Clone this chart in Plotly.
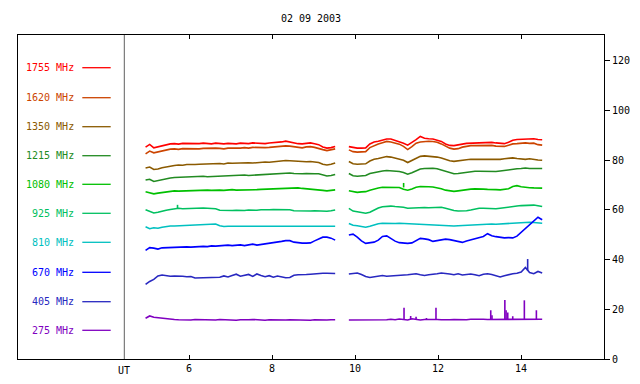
import numpy as np
import plotly.graph_objects as go

title_text = "02 09 2003"
names = ["1755 MHz", "1620 MHz", "1350 MHz", "1215 MHz", "1080 MHz",
         "925 MHz", "810 MHz", "670 MHz", "405 MHz", "275 MHz"]
colors = ["#ff0000", "#cc4400", "#8b5a00", "#228b22", "#00c000",
          "#00c060", "#00c0c0", "#0000ff", "#2828c0", "#8000c0"]

seg1_start, seg1_end = 4.95, 9.52
seg2_start, seg2_end = 9.85, 14.51

f1755_a = [85.2, 86.3, 84.9, 85.3, 85.8, 86.2, 86.5, 86.6, 86.4, 86.7, 86.6, 86.8, 86.7, 86.6, 86.8, 86.7,
           86.5, 86.8, 86.6, 86.5, 86.7, 86.6, 86.5, 86.8, 86.7, 86.6, 86.9, 86.7, 86.8, 86.6, 86.9, 87.0,
           86.9, 87.3, 87.6, 87.2, 86.8, 86.6, 86.5, 86.8, 86.9, 86.6, 86.2, 85.3, 84.8, 85.0, 85.5]
f1755_b = [85.4, 85.0, 84.8, 84.8, 84.9, 86.5, 87.3, 87.6, 88.0, 88.5, 88.5, 88.0, 87.5, 86.8, 86.0, 87.0,
           88.2, 89.5, 88.8, 88.6, 88.5, 88.0, 87.5, 86.5, 85.9, 85.8, 86.0, 86.4, 86.7, 86.8, 86.9, 87.0,
           86.9, 87.0, 87.1, 86.9, 86.7, 86.6, 87.2, 88.0, 88.3, 88.4, 88.5, 88.4, 88.6, 88.3, 88.2]

f1620_a = [82.5, 83.6, 82.9, 83.3, 83.8, 84.2, 84.4, 84.5, 84.3, 84.6, 84.5, 84.7, 84.6, 84.5, 84.7, 84.8,
           84.6, 84.8, 84.7, 84.5, 84.8, 84.7, 84.9, 84.8, 85.0, 84.8, 85.1, 85.0, 85.2, 85.0, 85.1, 85.3,
           85.4, 85.5, 85.7, 85.6, 85.4, 85.2, 84.9, 85.3, 85.4, 85.1, 84.8, 84.2, 83.8, 84.0, 84.5]
f1620_b = [84.1, 83.4, 83.2, 83.2, 83.4, 85.0, 85.8, 86.5, 87.0, 87.5, 87.3, 86.8, 86.4, 85.5, 84.2, 85.4,
           86.8, 87.3, 87.5, 87.6, 87.5, 87.2, 86.5, 85.5, 84.8, 84.4, 84.6, 85.2, 85.6, 85.8, 85.8, 85.9,
           85.7, 85.8, 85.9, 85.6, 85.4, 85.5, 86.0, 86.5, 86.6, 86.8, 86.9, 86.7, 86.8, 86.2, 86.0]

f1350_a = [76.8, 77.2, 76.2, 76.4, 76.9, 77.3, 77.6, 77.8, 78.0, 77.9, 78.2, 78.1, 78.2, 78.3, 78.4, 78.2,
           78.3, 78.5, 78.6, 78.4, 78.8, 78.7, 78.8, 79.0, 79.1, 78.9, 78.8, 79.0, 79.0, 79.2, 79.1, 79.3,
           79.5, 79.6, 79.8, 79.7, 79.6, 79.4, 79.2, 79.3, 79.4, 79.2, 79.0, 78.3, 78.0, 78.3, 78.8]
f1350_b = [79.4, 78.5, 78.3, 78.3, 78.5, 79.6, 80.3, 80.6, 81.0, 81.4, 81.2, 80.8, 80.5, 79.9, 79.0, 79.8,
           80.8, 81.5, 81.7, 81.6, 81.5, 81.2, 80.8, 80.2, 79.7, 79.5, 79.6, 79.9, 80.1, 80.3, 80.3, 80.4,
           80.3, 80.2, 80.1, 80.2, 80.3, 80.5, 80.7, 80.9, 80.6, 80.4, 80.3, 80.5, 80.1, 80.0, 79.9]

f1215_a = [72.0, 72.3, 71.4, 71.8, 72.2, 72.5, 72.8, 73.0, 73.1, 73.0, 73.2, 73.3, 73.3, 73.4, 73.5, 73.3,
           73.4, 73.6, 73.7, 73.5, 73.8, 73.9, 73.9, 74.0, 74.0, 73.8, 73.9, 74.1, 74.2, 74.1, 74.3, 74.5,
           74.6, 74.5, 74.7, 74.8, 74.6, 74.4, 74.5, 74.6, 74.7, 74.5, 74.5, 73.9, 73.6, 73.8, 74.2]
f1215_b = [74.6, 73.7, 73.5, 73.6, 73.8, 74.6, 75.0, 75.3, 75.6, 75.8, 75.7, 75.6, 75.4, 75.0, 74.3, 74.9,
           75.8, 76.4, 76.6, 76.8, 76.7, 76.5, 76.0, 75.2, 74.8, 74.5, 74.6, 74.9, 75.2, 75.4, 75.5, 75.5,
           75.4, 75.5, 75.5, 75.4, 75.6, 75.9, 76.2, 76.4, 76.5, 76.6, 76.8, 76.6, 76.7, 76.7, 76.6]

f1080_a = [67.3, 67.0, 66.4, 66.7, 67.0, 67.3, 67.5, 67.6, 67.5, 67.6, 67.7, 67.6, 67.8, 67.7, 67.8, 67.9,
           67.8, 68.0, 67.9, 67.8, 68.0, 68.1, 67.9, 68.0, 68.1, 68.2, 68.0, 68.1, 68.2, 68.3, 68.3, 68.4,
           68.5, 68.4, 68.6, 68.7, 68.7, 68.8, 68.6, 68.5, 68.4, 68.3, 68.2, 67.8, 67.6, 67.8, 68.0]
f1080_b = [67.7, 67.2, 67.0, 67.2, 67.3, 67.9, 68.5, 68.8, 69.1, 69.0, 69.1, 68.9, 69.0, 68.3, 67.9, 68.4,
           69.1, 69.4, 69.5, 69.3, 69.2, 68.9, 68.5, 67.9, 67.5, 67.4, 67.6, 67.9, 68.2, 68.3, 68.4, 68.2,
           68.3, 68.2, 68.0, 68.1, 68.0, 68.2, 68.5, 69.4, 69.7, 69.3, 69.0, 68.9, 68.8, 68.9, 68.7]

f925_a = [60.0, 59.3, 58.7, 59.0, 59.5, 59.8, 60.1, 60.4, 60.6, 60.4, 60.5, 60.6, 60.5, 60.7, 60.7, 60.6,
          60.6, 60.4, 59.8, 59.7, 59.6, 59.7, 59.8, 59.7, 59.7, 59.9, 59.8, 59.8, 60.0, 59.9, 60.0, 60.1,
          60.1, 60.3, 60.2, 60.0, 59.6, 59.5, 59.5, 59.6, 59.5, 59.6, 59.5, 59.4, 59.4, 59.6, 59.9]
f925_b = [60.6, 59.5, 59.2, 58.9, 58.6, 59.0, 60.0, 60.7, 61.2, 61.5, 61.5, 61.3, 61.2, 61.0, 60.6, 60.7,
          61.0, 61.0, 60.9, 60.8, 60.8, 60.9, 61.0, 60.6, 60.0, 59.7, 59.5, 59.4, 59.6, 59.9, 60.3, 60.6,
          60.6, 60.5, 60.6, 60.4, 60.6, 60.9, 61.1, 61.2, 61.5, 61.7, 61.8, 62.0, 61.9, 61.6, 61.3]

f810_a = [53.2, 52.4, 52.8, 52.6, 53.0, 53.3, 53.5, 53.5, 53.6, 53.7, 53.8, 53.8, 53.9, 53.9, 54.0, 54.1,
          54.2, 54.3, 53.6, 53.3, 53.4, 53.4, 53.3, 53.4, 53.5, 53.4, 53.4, 53.5, 53.5, 53.4, 53.4, 53.5,
          53.6, 53.5, 53.5, 53.4, 53.4, 53.5, 53.5, 53.4, 53.4, 53.5, 53.5, 53.4, 53.3, 53.5, 53.4]
f810_b = [54.5, 53.8, 53.6, 53.3, 53.0, 53.4, 54.0, 54.4, 54.6, 54.5, 54.6, 54.5, 54.6, 54.5, 54.4, 54.6,
          54.5, 54.3, 54.2, 54.0, 54.1, 53.9, 53.8, 53.7, 53.5, 53.5, 53.6, 53.7, 53.8, 54.0, 54.1, 54.2,
          54.1, 54.2, 54.3, 54.2, 54.3, 54.4, 54.5, 54.6, 54.8, 55.0, 55.1, 55.0, 54.9, 54.7, 54.6]

f670_a = [43.7, 44.8, 44.6, 44.2, 44.7, 44.8, 44.9, 45.0, 44.8, 45.0, 45.1, 45.0, 45.2, 45.1, 45.3, 45.2,
          45.5, 45.4, 45.6, 45.5, 45.8, 45.6, 45.8, 45.9, 45.6, 45.9, 46.2, 45.8, 46.0, 46.3, 46.5, 46.7,
          47.0, 47.3, 47.6, 47.6, 47.0, 46.7, 46.6, 46.6, 46.7, 47.5, 48.4, 49.0, 49.0, 48.6, 47.8]
f670_b = [49.9, 50.2, 49.0, 47.5, 46.5, 46.8, 47.0, 47.8, 49.3, 49.5, 48.5, 47.4, 46.8, 46.6, 46.5, 46.7,
          47.5, 48.5, 48.3, 48.0, 47.3, 47.6, 47.9, 48.2, 48.0, 47.6, 47.2, 46.9, 47.5, 48.0, 48.4, 48.8,
          49.3, 50.4, 49.6, 49.2, 48.9, 48.7, 48.8, 48.7, 49.4, 51.0, 52.3, 53.8, 55.5, 57.0, 56.0]

f405_a = [30.0, 31.2, 32.0, 33.4, 33.8, 33.4, 33.3, 33.4, 33.2, 33.3, 33.1, 33.2, 32.6, 32.6, 32.7, 32.8,
          32.9, 32.7, 32.9, 33.4, 33.0, 33.6, 34.1, 33.3, 33.6, 34.0, 33.2, 34.2, 33.6, 33.1, 33.5, 32.9,
          33.4, 33.0, 32.7, 32.8, 33.7, 33.9, 33.8, 34.0, 34.1, 34.3, 34.2, 34.5, 34.5, 34.3, 34.4]
f405_b = [34.2, 34.5, 34.6, 34.0, 33.2, 32.8, 33.0, 33.5, 33.6, 33.3, 33.4, 33.5, 33.4, 33.8, 33.9, 34.1,
          34.3, 33.9, 33.6, 33.9, 34.0, 34.3, 34.6, 34.5, 34.2, 33.9, 34.3, 33.8, 34.0, 34.2, 33.9, 33.5,
          34.1, 34.3, 34.0, 33.6, 33.0, 33.5, 34.0, 34.3, 34.5, 35.0, 36.8, 34.8, 34.3, 35.2, 34.6]

f275_a = [16.4, 17.3, 16.8, 16.6, 16.2, 16.0, 16.1, 15.9, 15.8, 15.7, 15.8, 15.7, 15.9, 15.8, 15.7, 15.8,
          15.8, 15.7, 15.9, 15.8, 15.7, 15.8, 15.6, 15.8, 15.7, 15.8, 15.9, 15.7, 15.8, 15.6, 15.8, 15.7,
          15.8, 15.7, 15.7, 15.8, 15.7, 15.8, 15.8, 15.7, 15.6, 15.8, 15.7, 15.8, 15.7, 15.8, 15.8]
f275_b = [15.7, 15.7, 15.6, 15.7, 15.7, 15.7, 15.7, 15.8, 15.7, 15.8, 16.0, 15.8, 16.1, 15.8, 15.7, 16.2,
          16.0, 15.7, 15.9, 16.0, 15.8, 15.9, 15.8, 15.7, 15.8, 15.9, 15.8, 15.7, 15.8, 16.0, 16.1, 15.9,
          16.0, 15.9, 15.9, 16.0, 16.0, 16.1, 16.0, 15.8, 16.0, 16.0, 16.0, 16.0, 16.0, 16.0, 16.0]

seg_a = [f1755_a, f1620_a, f1350_a, f1215_a, f1080_a, f925_a, f810_a, f670_a, f405_a, f275_a]
seg_b = [f1755_b, f1620_b, f1350_b, f1215_b, f1080_b, f925_b, f810_b, f670_b, f405_b, f275_b]

# short spikes (time, base, peak) per series index
spike_series = [5, 4, 8, 9, 9, 9, 9, 9, 9, 9, 9, 9, 9, 9, 9, 9]
spike_time = [5.72, 11.17, 14.16, 11.18, 11.34, 11.47, 11.72, 11.95, 13.27, 13.30, 13.61, 13.64, 13.68, 13.80, 14.08, 14.37]
spike_base = [60.5, 69.0, 35.5, 15.9, 15.9, 15.9, 15.9, 15.9, 15.9, 15.9, 15.9, 15.9, 15.9, 15.9, 15.9, 15.9]
spike_peak = [62.0, 70.8, 40.2, 20.6, 17.3, 17.0, 16.5, 20.6, 19.6, 17.6, 23.7, 19.6, 18.7, 17.2, 23.6, 19.6]

x_ticks = [6, 8, 10, 12, 14]
y_ticks = [0, 20, 40, 60, 80, 100, 120]

FONT = "DejaVu Sans Mono"
fig = go.Figure()

for k in range(len(names)):
    a, b = seg_a[k], seg_b[k]
    ta = list(np.linspace(seg1_start, seg1_end, len(a)))
    tb = list(np.linspace(seg2_start, seg2_end, len(b)))
    xs = ta + [None] + tb
    ys = list(a) + [None] + list(b)
    for s, t, lo, hi in zip(spike_series, spike_time, spike_base, spike_peak):
        if s == k:
            xs += [None, t, t]
            ys += [None, lo, hi]
    fig.add_trace(go.Scatter(x=xs, y=ys, mode="lines", name=names[k],
                             line=dict(color=colors[k], width=1.6),
                             connectgaps=False, showlegend=False, hoverinfo="skip"))

# plot geometry in pixels
L, R, T, B = 18, 36, 35, 25
W, H = 640, 384
pw, ph = W - L - R, H - T - B

def px(xp):
    return (xp - L) / pw

def py(yp):
    return (H - B - yp) / ph

annotations = []
shapes = []
legend_y = [67.7, 97.7, 126.7, 155.7, 184.3, 213.3, 242.3, 272.3, 301.7, 330.3]
for k in range(len(names)):
    annotations.append(dict(x=px(76), y=py(legend_y[k]), xref="paper", yref="paper",
                            text=names[k], showarrow=False, xanchor="right", yanchor="middle",
                            font=dict(family=FONT, size=10, color=colors[k])))
    shapes.append(dict(type="line", xref="paper", yref="paper",
                       x0=px(82.3), x1=px(110.7), y0=py(legend_y[k]), y1=py(legend_y[k]),
                       line=dict(color=colors[k], width=1.3)))

shapes.append(dict(type="line", xref="paper", yref="paper", x0=px(124.3), x1=px(124.3),
                   y0=0, y1=1, line=dict(color="#606060", width=1)))
annotations.append(dict(x=px(124.3), y=py(370), xref="paper", yref="paper", text="UT",
                        showarrow=False, xanchor="center", yanchor="middle",
                        font=dict(family=FONT, size=10, color="black")))

fig.update_layout(
    width=W, height=H,
    margin=dict(l=L, r=R, t=T, b=B, pad=0, autoexpand=False),
    paper_bgcolor="white", plot_bgcolor="white",
    title=dict(text=title_text, x=311 / W, xanchor="center",
               y=1 - 18 / H, yanchor="middle", font=dict(family=FONT, size=10, color="black")),
    font=dict(family=FONT, size=10, color="black"),
    xaxis=dict(range=[1.875, 16.0], tickvals=x_ticks, ticktext=[str(v) for v in x_ticks],
               ticks="inside", ticklen=4, tickcolor="black", showgrid=False, zeroline=False,
               showline=True, linecolor="black", linewidth=1, mirror="ticks", automargin=False,
               tickfont=dict(family=FONT, size=10, color="black")),
    yaxis=dict(range=[0, 130.3], tickvals=y_ticks, side="right",
               ticks="outside", ticklen=5, tickcolor="black", showgrid=False, zeroline=False,
               showline=True, linecolor="black", linewidth=1, mirror=True, automargin=False,
               tickfont=dict(family=FONT, size=10, color="black")),
    annotations=annotations, shapes=shapes,
)

fig.write_html("out.html", post_script="document.body.style.margin='0';",
               config={"displayModeBar": False})
